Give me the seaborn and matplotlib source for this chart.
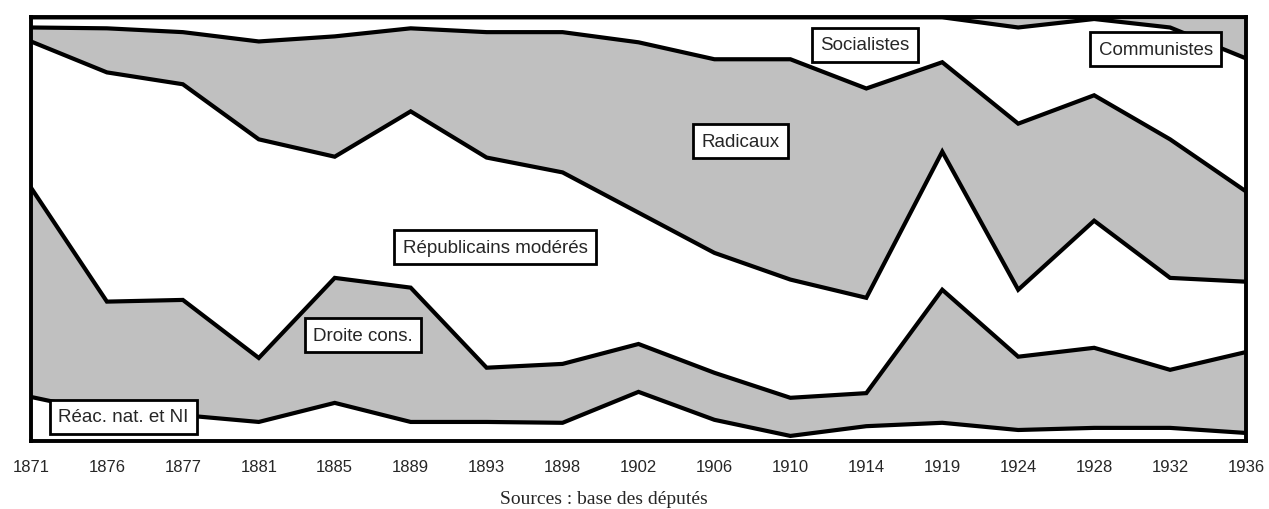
import numpy as np
import pandas as pd
import matplotlib
matplotlib.use("Agg")
import matplotlib.pyplot as plt
import seaborn as sns

# years of the legislative elections (equally spaced on the axis)
years = ["1871", "1876", "1877", "1881", "1885", "1889", "1893", "1898", "1902",
         "1906", "1910", "1914", "1919", "1924", "1928", "1932", "1936"]

# share of deputies (%) for each group
reac = [10.4, 6.6, 6.1, 4.5, 9.0, 4.5, 4.5, 4.3, 11.6, 5.0, 1.2, 3.5, 4.3, 2.6, 3.1, 3.1, 1.9]
droite = [49.4, 26.3, 27.2, 15.1, 29.5, 31.7, 12.8, 13.9, 11.3, 11.1, 9.0, 7.8, 31.4, 17.3, 18.9, 13.7, 19.1]
rep_mod = [34.5, 54.1, 50.9, 51.6, 28.6, 41.6, 49.6, 45.2, 31.0, 28.3, 27.9, 22.5, 32.6, 15.8, 30.0, 21.7, 16.6]
radicaux = [3.3, 10.4, 12.3, 23.1, 28.4, 19.6, 29.6, 33.1, 40.2, 45.7, 52.0, 49.4, 21.1, 39.2, 29.6, 32.7, 21.3]
socialistes = [2.4, 2.6, 3.5, 5.7, 4.5, 2.6, 3.5, 3.5, 5.9, 9.9, 9.9, 16.8, 10.6, 22.7, 18.0, 26.4, 31.4]
communistes = [0, 0, 0, 0, 0, 0, 0, 0, 0, 0, 0, 0, 0, 2.4, 0.4, 2.4, 9.7]

groups = ["Réac. nat. et NI", "Droite cons.", "Républicains modérés",
          "Radicaux", "Socialistes", "Communistes"]

df = pd.DataFrame({
    groups[0]: reac,
    groups[1]: droite,
    groups[2]: rep_mod,
    groups[3]: radicaux,
    groups[4]: socialistes,
    groups[5]: communistes,
}, index=years)

cum = df.cumsum(axis=1)
pos = np.arange(len(years))

sns.set_theme(style="white")
plt.rcParams["font.family"] = ["Liberation Sans", "DejaVu Sans"]

fig = plt.figure(figsize=(12.69, 5.10), dpi=100)
ax = fig.add_axes([0.0244, 0.1333, 0.9575, 0.8308])

fills = ["white", "#c0c0c0"] * 3
lower = np.zeros(len(years))
for i, g in enumerate(groups):
    upper = cum[g].values
    ax.fill_between(pos, lower, upper, color=fills[i], lw=0, zorder=1)
    lower = upper

# boundary lines between groups
long = cum.reset_index(drop=True).assign(pos=pos).melt(
    id_vars="pos", var_name="groupe", value_name="cumul")
sns.lineplot(data=long, x="pos", y="cumul", units="groupe", estimator=None,
             color="black", lw=3, solid_joinstyle="miter", ax=ax, zorder=2)

# group labels in boxes
labels = [
    ("Réac. nat. et NI", 1.22, 5.7),
    ("Droite cons.", 4.37, 25.0),
    ("Républicains modérés", 6.11, 45.7),
    ("Radicaux", 9.34, 70.8),
    ("Socialistes", 10.98, 93.5),
    ("Communistes", 14.81, 92.5),
]
for txt, x, y in labels:
    ax.text(x, y, txt, ha="center", va="center", fontsize=13.5, zorder=5,
            bbox=dict(boxstyle="square,pad=0.45", fc="white", ec="black", lw=2))

ax.set_xlim(0, 16)
ax.set_ylim(0, 100)
ax.set_xticks(pos, years)
ax.set_yticks([])
ax.set_xlabel("")
ax.set_ylabel("")
ax.tick_params(axis="x", length=0, pad=13, labelsize=12)
for s in ax.spines.values():
    s.set_visible(True)
    s.set_color("black")
    s.set_linewidth(2.8)
    s.set_zorder(4)

fig.text(604 / 1269, 1 - 500 / 510, "Sources : base des députés",
         ha="center", va="center", family="Liberation Serif", fontsize=14)

fig.savefig("out.png", dpi=100)
